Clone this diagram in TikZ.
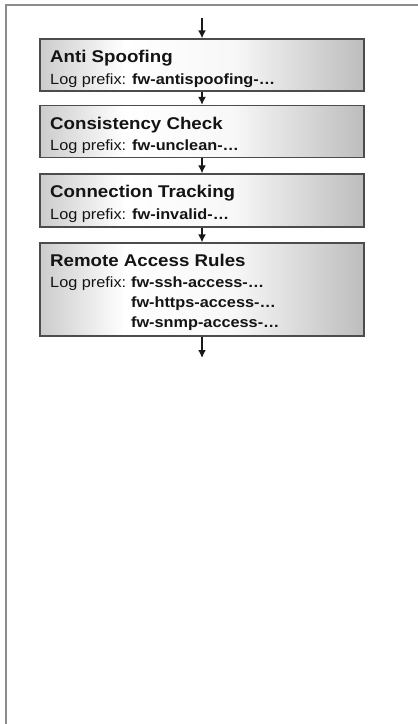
\documentclass[tikz,border=0pt]{standalone}
\usepackage{fontspec}
\setmainfont{Liberation Sans}[FakeStretch=1.1]
\usetikzlibrary{arrows.meta}
\pgfdeclarehorizontalshading{boxshade}{100bp}{color(0bp)=(gray!40); color(25bp)=(gray!40); color(38bp)=(white); color(55bp)=(white!97!black); color(75bp)=(gray!52); color(100bp)=(gray!52)}
\tikzset{
  box/.style={draw=black!70, line width=1.2pt, shading=boxshade, minimum width=324pt, inner sep=0pt},
  ttl/.style={anchor=base west, inner sep=0pt, text=black!92, font=\fontsize{17}{20}\selectfont\bfseries},
  txt/.style={anchor=base west, inner sep=0pt, text=black!92, font=\fontsize{14.8}{18}\selectfont},
  flow/.style={draw=black!90, line width=1.6pt, -{Latex[length=8pt,width=8pt]}},
}
\begin{document}
\begin{tikzpicture}[x=1pt,y=-1pt]
\useasboundingbox (0,0) rectangle (418,724);
\fill[white] (0,0) rectangle (418,724);
\draw[black!45, line width=2pt] (6,724) -- (6,5) -- (418,5);

\node[box, minimum height=52pt] (b1) at (202,65) {};
\node[box, minimum height=52pt] (b2) at (202,131.5) {};
\node[box, minimum height=53pt] (b3) at (202,200.5) {};
\node[box, minimum height=93pt] (b4) at (202,289.5) {};

\node[ttl] (t1) at (50,62) {Anti Spoofing};
\node[txt] (l1) at (50,84) {Log prefix: \textbf{fw-antispoofing-…}};

\node[ttl] (t2) at (50,129) {Consistency Check};
\node[txt] (l2) at (50,150) {Log prefix: \textbf{fw-unclean-…}};

\node[ttl] (t3) at (50,197) {Connection Tracking};
\node[txt] (l3) at (50,219) {Log prefix: \textbf{fw-invalid-…}};

\node[ttl] (t4) at (50,266) {Remote Access Rules};
\node[txt] (l4) at (50,287) {Log prefix:\hspace*{4.5pt}};
\node[txt] (v1) at (l4.base east) {\textbf{fw-ssh-access-…}};
\node[txt] (v2) at ([yshift=-20pt]v1.base west) {\textbf{fw-https-access-…}};
\node[txt] (v3) at ([yshift=-20pt]v2.base west) {\textbf{fw-snmp-access-…}};

\coordinate (in) at (202,18);
\coordinate (out) at (202,358);
\draw[flow] (in) -- (b1.north);
\draw[flow] (b1.south) -- (b2.north);
\draw[flow] (b2.south) -- (b3.north);
\draw[flow] (b3.south) -- (b4.north);
\draw[flow] (b4.south) -- (out);
\end{tikzpicture}
\end{document}
